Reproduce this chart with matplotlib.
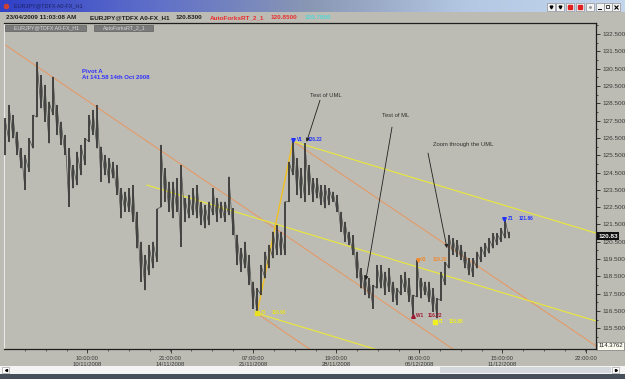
import numpy as np
import matplotlib.pyplot as plt
from matplotlib.patches import Rectangle
from matplotlib.colors import LinearSegmentedColormap

plt.rcParams['font.family'] = ['Liberation Sans', 'DejaVu Sans']

W, H = 625, 379
BG = '#bcbcb4'

# EURJPY H1, one bar kept every 5 hours
bar_step = 5
highs = [127.63, 128.40, 127.82, 126.86, 125.89, 125.51, 126.47, 127.82, 130.90, 130.13,
         129.56, 128.59, 130.04, 128.40, 127.44, 126.67, 125.89, 124.93, 125.70, 126.09,
         126.47, 127.82, 128.11, 128.40, 126.00, 125.51, 125.32, 125.12, 124.93, 123.58,
         123.39, 123.58, 123.77, 122.23, 120.50, 119.73, 120.31, 120.50, 122.40, 126.09,
         124.74, 123.97, 123.97, 124.16, 124.93, 123.00, 123.20, 123.58, 123.77, 122.81,
         122.62, 122.81, 123.58, 123.00, 122.81, 122.81, 124.26, 122.43, 120.90, 120.11,
         120.50, 119.73, 118.19, 117.80, 119.15, 119.92, 120.31, 121.08, 121.46, 121.08,
         122.81, 125.12, 126.38, 125.32, 124.74, 126.18, 124.93, 124.16, 124.16, 123.77,
         123.77, 123.58, 123.39, 123.20, 122.23, 121.65, 121.08, 120.88, 119.92, 118.96,
         118.57, 118.38, 118.00, 119.15, 119.15, 118.76, 118.96, 118.19, 117.80, 118.57,
         118.76, 118.38, 117.42, 119.44, 118.38, 118.19, 118.19, 117.80, 117.22, 118.76,
         119.34, 120.88, 120.69, 120.59, 120.31, 119.92, 119.54, 119.54, 119.92, 120.21,
         120.40, 120.69, 120.98, 120.98, 121.27, 121.85, 121.08]
lows = [125.51, 126.28, 126.47, 125.51, 124.74, 123.49, 124.55, 125.89, 127.70, 128.21,
        127.44, 126.18, 127.82, 126.67, 126.09, 125.51, 122.52, 123.58, 123.77, 124.35,
        124.93, 126.28, 126.67, 125.89, 123.97, 124.35, 123.87, 124.16, 123.20, 121.85,
        122.23, 122.23, 121.65, 120.11, 118.19, 117.70, 118.57, 118.96, 119.34, 122.50,
        122.81, 122.23, 121.85, 122.23, 120.21, 121.65, 121.85, 122.04, 121.85, 121.46,
        121.27, 121.46, 122.04, 121.65, 121.85, 121.65, 122.04, 120.88, 119.15, 118.76,
        118.96, 118.00, 116.64, 116.36, 117.42, 118.38, 118.96, 119.54, 119.73, 119.73,
        119.73, 122.81, 124.35, 123.20, 123.00, 122.81, 123.20, 122.81, 123.00, 122.62,
        122.43, 122.62, 122.81, 122.23, 121.08, 120.50, 120.31, 119.73, 118.38, 117.80,
        117.42, 117.22, 116.64, 117.80, 117.80, 117.42, 117.61, 117.03, 116.84, 117.42,
        117.61, 117.03, 116.26, 117.30, 117.22, 117.42, 117.03, 116.45, 116.07, 117.10,
        118.00, 118.96, 119.73, 119.63, 119.44, 118.96, 118.57, 118.48, 118.96, 119.34,
        119.63, 119.82, 120.11, 120.31, 120.50, 120.69, 120.69]

time_ticks = [103, 207, 310, 414, 518, 621, 726]
time_labels = ['10:00:00\n10/11/2008', '21:00:00\n14/11/2008', '07:00:00\n21/11/2008',
               '19:00:00\n28/11/2008', '06:00:00\n05/12/2008', '15:00:00\n11/12/2008',
               '22:00:00']
price_ticks = [115.5, 116.5, 117.5, 118.5, 119.5, 120.5, 121.5, 122.5, 123.5,
               124.5, 125.5, 126.5, 127.5, 128.5, 129.5, 130.5, 131.5, 132.5]
last_price = 120.83
axis_low = 114.3762

# AutoForks lines: (start bar, start price, end bar, end price)
orange_fork = [(-1.25, 131.92, 740, 108.64),   # median line from pivot A
               (360, 126.30, 740, 114.44),     # upper median line
               (315, 116.36, 420, 113.07)]     # lower median line
yellow_fork = [(360, 126.30, 740, 120.98),
               (177.5, 123.77, 740, 115.90),
               (315, 116.36, 520, 113.49)]
swing_leg = [(315, 116.36), (360, 126.30)]

pivot_names = ['Z1', 'V1', 'W1', 'X1', 'Y1', 'Z1']
pivot_bars = [315, 360, 510, 516, 537, 624]
pivot_prices = [116.36, 126.35, 116.20, 119.44, 115.85, 121.81]
pivot_values = ['116.60', '126.22', '116.22', '119.28', '115.88', '121.86']
pivot_colors = ['#e8e020', '#2030ff', '#a01830', '#f08a30', '#f0f020', '#2030ff']
pivot_markers = ['s', 'v', '^', 'v', 's', 'v']

notes = ['Test of UML', 'Test of ML', 'Zoom through the UML']
note_pos = [(381, 128.97), (471, 127.82), (535, 126.14)]
arrow_tail = [(393.75, 128.68), (483.75, 127.12), (528.75, 125.62)]
arrow_tip = [(377, 126.27), (451, 118.28), (552.5, 120.13)]

fig = plt.figure(figsize=(W / 100, H / 100), dpi=100, facecolor=BG)

ax = fig.add_axes([4 / W, 1 - 349 / H, 592 / W, (349 - 23) / H])
ax.set_facecolor(BG)

x = np.arange(len(highs)) * bar_step
ax.vlines(x, lows, highs, colors='#282828', lw=1.1, zorder=3)
# thin trace low -> high -> next low, so the band reads like dense hourly bars
zx = np.repeat(x, 2)
zy = np.ravel(np.column_stack([lows, highs]))
ax.plot(zx, zy, color='#404040', lw=0.45, zorder=3)

for x0, y0, x1, y1 in orange_fork:
    ax.plot([x0, x1], [y0, y1], color='#e49a68', lw=0.8, zorder=2)
for x0, y0, x1, y1 in yellow_fork:
    ax.plot([x0, x1], [y0, y1], color='#ece838', lw=0.8, zorder=2)
ax.plot([p[0] for p in swing_leg], [p[1] for p in swing_leg], color='#f0c020', lw=1.0, zorder=2)

for name, b, p, val, c, m in zip(pivot_names, pivot_bars, pivot_prices,
                                 pivot_values, pivot_colors, pivot_markers):
    ax.plot(b, p, marker=m, color=c, ms=2.6, ls='none', zorder=5)
    ax.annotate(name, (b, p), xytext=(2.5, 0.5), textcoords='offset points', color=c,
                fontsize=3.4, fontweight='bold', va='center', zorder=6)
    ax.annotate(val, (b, p), xytext=(10.5, 0.5), textcoords='offset points', color=c,
                fontsize=3.4, fontweight='bold', va='center', zorder=6)

for txt, pos, tail, tip in zip(notes, note_pos, arrow_tail, arrow_tip):
    ax.text(pos[0], pos[1], txt, fontsize=4.2, color='#303030', va='center', zorder=6)
    ax.annotate('', xy=tip, xytext=tail,
                arrowprops=dict(arrowstyle='-|>', color='#202020', lw=0.6,
                                mutation_scale=5, shrinkA=0, shrinkB=0), zorder=6)

ax.text(96, 130.48, 'Pivot A\nAt 141.58 14th Oct 2008', fontsize=4.3, fontweight='bold',
        color='#3030ff', va='top', linespacing=1.25, zorder=6)

ax.set_xlim(-1.25, 738.75)
ax.set_ylim(114.30, 133.14)

ax.yaxis.tick_right()
ax.set_yticks(price_ticks)
ax.set_yticklabels([f'{p:.3f}' for p in price_ticks])
ax.set_yticks(np.arange(115, 133.1, 1.0), minor=True)
ax.set_xticks(time_ticks)
ax.set_xticklabels(time_labels)
ax.set_xticks(np.arange(time_ticks[0] - 77.8, 739, 25.94), minor=True)
ax.tick_params(axis='y', which='major', length=3, width=0.6, color='#202020',
               labelsize=4.6, pad=1.5, labelcolor='#3a3a3a')
ax.tick_params(axis='y', which='minor', length=1.5, width=0.5, color='#202020')
ax.tick_params(axis='x', which='major', length=3, width=0.6, color='#303030',
               labelsize=4.2, pad=2, labelcolor='#3a3a3a')
ax.tick_params(axis='x', which='minor', length=1.5, width=0.5, color='#303030')
for s in ['top', 'right', 'bottom']:
    ax.spines[s].set_color('#1e1e1e')
    ax.spines[s].set_linewidth(0.9)
ax.spines['left'].set_color('#e8e8e8')
ax.spines['left'].set_linewidth(0.8)

ax.text(1.004, last_price, '120.83', transform=ax.get_yaxis_transform(), fontsize=4.6,
        color='white', va='center', ha='left', fontweight='bold',
        bbox=dict(facecolor='#101010', edgecolor='none', pad=0.8), zorder=7, clip_on=False)
ax.text(1.004, axis_low + 0.1, '114.3762', transform=ax.get_yaxis_transform(), fontsize=4.3,
        color='#202020', va='center', ha='left',
        bbox=dict(facecolor='#fbfbf0', edgecolor='#606060', lw=0.4, pad=0.8), zorder=7,
        clip_on=False)

# window chrome drawn in pixel coordinates
ov = fig.add_axes([0, 0, 1, 1])
ov.axis('off')
tb = LinearSegmentedColormap.from_list('tb', ['#3040c8', '#6070c8', '#8a98b4', '#b4c8e4', '#c4d6ec'])
ov.imshow(np.linspace(0, 1, 256)[None, :], cmap=tb, aspect='auto', extent=[0, W, 12, 0])
ov.plot(6, 6, 'o', color='#d04030', ms=3)
ov.text(14, 6, 'EURJPY@TDFX A0-FX_H1', fontsize=4, color='#1a2260', va='center')
btn_x = [547, 556, 566, 576, 586, 596, 604, 612]
for i, bx in enumerate(btn_x):
    ov.add_patch(Rectangle((bx, 3), 7.5, 7.5, facecolor='#f2f2f2', edgecolor='#808080', lw=0.4))
    cx, cy = bx + 3.75, 6.75
    if i < 2:
        ov.plot(cx, cy, 'v', color='k', ms=2)
    elif i < 4:
        ov.plot(cx, cy, 's', color='#e02020', ms=2.2)
    elif i == 4:
        ov.plot(cx, cy, '.', color='#909090', ms=2)
    elif i == 5:
        ov.plot([cx - 2, cx + 1], [cy + 2, cy + 2], color='k', lw=0.7)
    elif i == 6:
        ov.add_patch(Rectangle((cx - 2, cy - 1.5), 3.5, 3, fill=False, edgecolor='k', lw=0.5))
    else:
        ov.plot(cx, cy, 'x', color='k', ms=2.5, mew=0.8)

info = [(6, '23/04/2009 11:03:08 AM', '#202020'), (90, 'EURJPY@TDFX A0-FX_H1', '#202020'),
        (176, '120.8300', '#202020'), (210, 'AutoForksRT_2_1', '#e83030'),
        (271, '120.8500', '#e83030'), (305, '120.7800', '#50d8d8')]
for ix, s, c in info:
    ov.text(ix, 17.5, s, fontsize=4.6, fontweight='bold', color=c, va='center')

for tx, tw, s in [(5, 81, 'EURJPY@TDFX A0-FX_H1'), (94, 59, 'AutoForksRT_2_1')]:
    ov.add_patch(Rectangle((tx, 25), tw, 6, facecolor='#7a7a7a', edgecolor='#505050', lw=0.4))
    ov.text(tx + 9, 28, s, fontsize=3.8, color='#d8d8d8', va='center')

ov.add_patch(Rectangle((0, 366), W, 8, facecolor='#f4f4f4', edgecolor='none'))
ov.add_patch(Rectangle((440, 367), 171, 6, facecolor='#d4d8dc', edgecolor='none'))
ov.add_patch(Rectangle((2, 367), 7, 6, facecolor='#ffffff', edgecolor='#909090', lw=0.4))
ov.add_patch(Rectangle((612, 367), 7, 6, facecolor='#ffffff', edgecolor='#909090', lw=0.4))
ov.plot(5.5, 370, '<', color='k', ms=1.5)
ov.plot(615.5, 370, '>', color='k', ms=1.5)
ov.add_patch(Rectangle((0, 374), W, 5, facecolor='#46505a', edgecolor='none'))

ov.set_xlim(0, W)
ov.set_ylim(H, 0)

fig.savefig('out.png', dpi=100, facecolor=BG)
